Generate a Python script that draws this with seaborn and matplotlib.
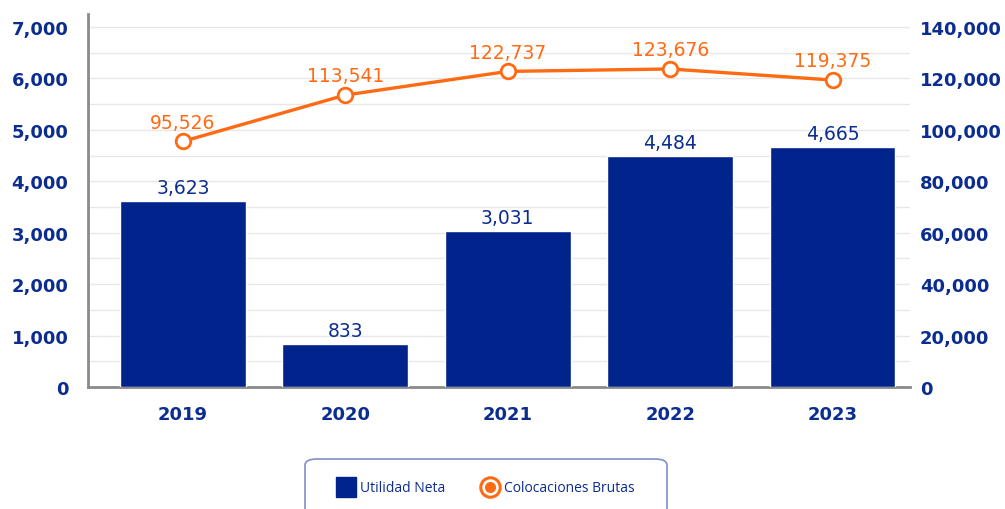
import matplotlib
matplotlib.use("Agg")
import matplotlib.pyplot as plt
from matplotlib.patches import FancyBboxPatch
from matplotlib.lines import Line2D
from matplotlib.ticker import FuncFormatter, MultipleLocator
import seaborn as sns
import pandas as pd

years = ["2019", "2020", "2021", "2022", "2023"]
utilidad_neta = [3623, 833, 3031, 4484, 4665]
colocaciones_brutas = [95526, 113541, 122737, 123676, 119375]
left_ticks = [0, 1000, 2000, 3000, 4000, 5000, 6000, 7000]
right_ticks = [0, 20000, 40000, 60000, 80000, 100000, 120000, 140000]

NAVY = "#00238c"
ORANGE = "#ff6a13"
TEXT_BLUE = "#0b2d8f"

sns.set_theme(style="white")
plt.rcParams["font.family"] = ["DejaVu Sans"]

df = pd.DataFrame({"year": years, "utilidad": utilidad_neta, "coloc": colocaciones_brutas})

fig = plt.figure(figsize=(10.05, 5.10), dpi=100)
ax = fig.add_axes([88 / 1005, 122 / 510, (910 - 88) / 1005, (388 - 15) / 510])

sns.barplot(data=df, x="year", y="utilidad", color=NAVY, saturation=1,
            width=0.775, ax=ax, zorder=3)

ymax_left = 7000 * (388 - 15) / 360
ax.set_ylim(0, ymax_left)
ax.set_yticks(left_ticks)
ax.yaxis.set_minor_locator(MultipleLocator(500))
ax.yaxis.set_major_formatter(FuncFormatter(lambda v, p: f"{int(v):,}"))
ax.grid(True, which="both", axis="y", color="#e8e8e8", linewidth=1, zorder=0)
ax.set_axisbelow(True)
ax.set_xlabel("")
ax.set_ylabel("")
for s in ["top", "right"]:
    ax.spines[s].set_visible(False)
for s in ["left", "bottom"]:
    ax.spines[s].set_color("#8a8a8a")
    ax.spines[s].set_linewidth(2)
ax.tick_params(axis="y", which="both", length=0, pad=14, labelsize=13,
               labelcolor=TEXT_BLUE)
ax.tick_params(axis="x", length=0, pad=13, labelsize=13, labelcolor=TEXT_BLUE)
for lbl in ax.get_yticklabels() + ax.get_xticklabels():
    lbl.set_fontweight("bold")

for i, v in enumerate(utilidad_neta):
    ax.annotate(f"{v:,}", (i, v), xytext=(0, 3), textcoords="offset points",
                ha="center", va="bottom", fontsize=13.5, color=TEXT_BLUE)

ax2 = ax.twinx()
sns.pointplot(data=df, x="year", y="coloc", color=ORANGE, ax=ax2,
              linewidth=2.4, markers="o", markersize=10.5,
              markerfacecolor="white", markeredgecolor=ORANGE,
              markeredgewidth=2)
ax2.set_ylim(0, 140000 * (388 - 15) / 360)
ax2.set_yticks(right_ticks)
ax2.yaxis.set_major_formatter(FuncFormatter(lambda v, p: f"{int(v):,}"))
ax2.set_ylabel("")
ax2.set_xlabel("")
for s in ["top", "right", "left", "bottom"]:
    ax2.spines[s].set_visible(False)
ax2.tick_params(axis="y", length=0, pad=7, labelsize=13, labelcolor=TEXT_BLUE)
for lbl in ax2.get_yticklabels():
    lbl.set_fontweight("bold")
ax2.grid(False)

for i, v in enumerate(colocaciones_brutas):
    ax2.annotate(f"{v:,}", (i, v), xytext=(0, 7), textcoords="offset points",
                 ha="center", va="bottom", fontsize=13.5, color=ORANGE)

ax.set_xlim(-0.585, 4.477)
ax2.set_xlim(-0.585, 4.477)

# legend box
box = FancyBboxPatch((305 / 1005, -0.05), (667 - 305) / 1005, 0.05 + 50 / 510,
                     boxstyle="round,pad=0,rounding_size=0.012",
                     transform=fig.transFigure, facecolor="white",
                     edgecolor="#8090c8", linewidth=1.2, clip_on=False)
fig.patches.append(box)

handles = [
    Line2D([], [], marker="s", linestyle="none", markersize=14,
           markerfacecolor=NAVY, markeredgecolor=NAVY),
    (Line2D([], [], marker="o", linestyle="none", markersize=14,
            markerfacecolor="white", markeredgecolor=ORANGE, markeredgewidth=2.2),
     Line2D([], [], marker="o", linestyle="none", markersize=7,
            markerfacecolor=ORANGE, markeredgecolor=ORANGE)),
]
leg = fig.legend(handles, ["Utilidad Neta", "Colocaciones Brutas"],
                 loc="center", bbox_to_anchor=(486 / 1005, 21 / 510),
                 ncol=2, frameon=False, handlelength=1.2,
                 handletextpad=0.4, columnspacing=2.6,
                 prop={"family": ["Open Sans"], "size": 10})
for t in leg.get_texts():
    t.set_color(TEXT_BLUE)

fig.savefig("out.png", dpi=100)
